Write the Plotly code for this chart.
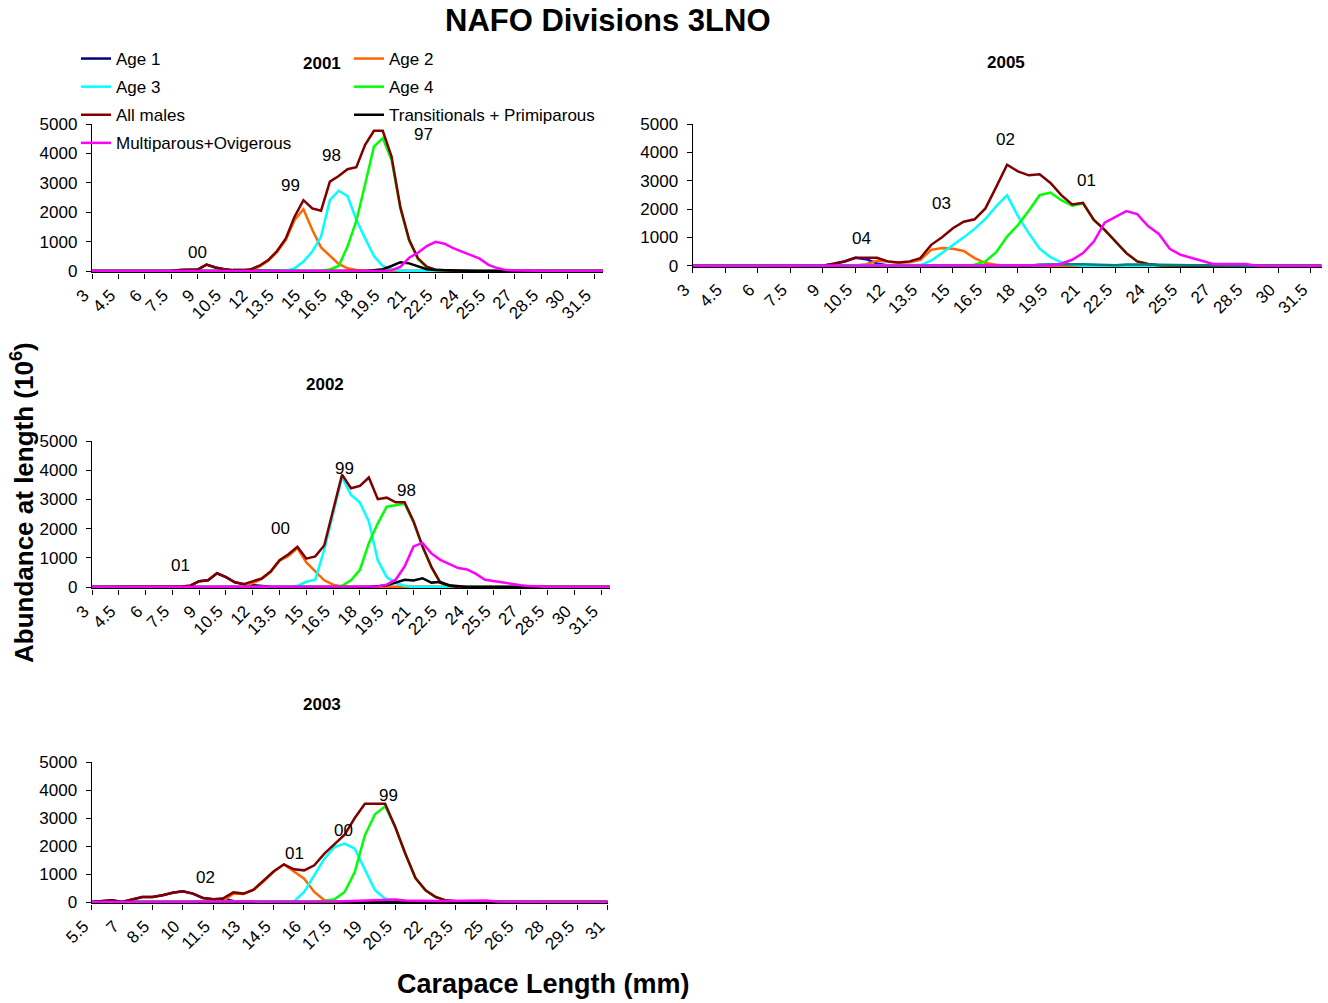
import plotly.graph_objects as go

# Carapace length grids (mm)
lengths_a = [3.0 + 0.5 * i for i in range(59)]      # 3.0 .. 32.0
lengths_b = [5.5 + 0.5 * i for i in range(52)]      # 5.5 .. 31.0

# ---- 2001 (abundance, millions) : first length of each run, then values
age1_2001 = (7.5, [10, 30, 40, 50, 215, 120, 60, 30, 30, 30, 30, 20, 5])
age2_2001 = (12.0, [30, 150, 350, 640, 1060, 1740, 2100, 1400, 800, 510, 240, 90, 35, 10])
age3_2001 = (14.0, [10, 90, 320, 660, 1170, 2410, 2730, 2550, 1740, 1110, 510, 170, 60, 10])
age4_2001 = (16.5, [50, 170, 830, 1700, 2950, 4230, 4520, 3776, 2130, 1030, 400, 125, 35, 10])
males_2001 = (7.5, [10, 30, 40, 50, 215, 120, 60, 30, 30, 57, 180, 370, 680, 1110, 1850, 2410,
                    2130, 2050, 3040, 3230, 3460, 3530, 4290, 4770, 4770, 3890, 2170, 1060, 430,
                    150, 45, 20, 10])
trans_2001 = (19.0, [30, 60, 170, 300, 260, 150, 60, 30, 20, 25, 10])
multi_2001 = (20.0, [30, 140, 450, 620, 850, 990, 930, 780, 660, 540, 420, 210, 100, 30, 20, 20, 20, 15])

# ---- 2002
age1_2002 = (8.0, [20, 45, 200, 230, 470, 340, 160, 90, 60, 30, 10])
age2_2002 = (11.0, [0, 10, 130, 280, 520, 900, 1060, 1330, 840, 530, 230, 80, 20])
age3_2002 = (14.5, [40, 180, 250, 1270, 2520, 3770, 3150, 2890, 2240, 910, 340, 136, 45])
age4_2002 = (17.0, [40, 230, 590, 1500, 2180, 2750, 2800, 2850, 2220, 1380, 680, 150, 40])
males_2002 = (8.0, [20, 45, 200, 230, 470, 340, 160, 100, 190, 290, 530, 920, 1120, 1380, 970, 1050,
                    1420, 2600, 3850, 3380, 3460, 3750, 3010, 3060, 2900, 2900, 2250, 1400, 690, 150, 40])
trans_2002 = (19.0, [30, 60, 150, 250, 220, 300, 150, 170, 60, 20])
multi_2002 = (19.0, [20, 80, 250, 700, 1390, 1510, 1150, 930, 800, 650, 600, 450, 250, 200, 150,
                     100, 60, 30, 10])

# ---- 2003
age1_2003 = (6.0, [20, 60, 0, 80, 180, 180, 240, 330, 380, 300, 140, 95, 100, 40, 10])
age2_2003 = (12.0, [30, 300, 290, 430, 740, 1090, 1340, 1070, 830, 357, 60, 10])
age3_2003 = (15.5, [24, 357, 952, 1548, 1964, 2083, 1905, 1131, 417, 119, 36])
age4_2003 = (16.5, [10, 36, 95, 357, 1071, 2381, 3131, 3417, 2680, 1726, 857, 417, 179, 60, 24])
males_2003 = (6.0, [20, 60, 0, 80, 180, 180, 240, 330, 380, 300, 143, 95, 130, 345, 300, 440, 750,
                    1095, 1345, 1167, 1130, 1310, 1726, 2083, 2405, 3000, 3512, 3512, 3512, 2680,
                    1726, 857, 417, 179, 60, 24])
trans_2003 = (6.0, [])
multi_2003 = (17.0, [10, 20, 30, 40, 50, 50, 60, 90, 50, 40, 40, 40, 40, 40, 30, 30, 50, 20, 10])

# ---- 2005
age1_2005 = (9.5, [70, 150, 280, 230, 80, 10])
age2_2005 = (10.5, [10, 50, 170, 150, 93, 117, 210, 560, 620, 600, 520, 269, 93, 35])
age3_2005 = (13.5, [23, 175, 444, 700, 1000, 1300, 1650, 2100, 2480, 1750, 1150, 600, 300, 120, 35])
age4_2005 = (16.0, [35, 152, 479, 1028, 1437, 1940, 2488, 2582, 2313, 2114, 2196, 1612, 1262, 853,
                    444, 152, 58, 12])
males_2005 = (9.0, [0, 70, 150, 280, 280, 280, 152, 117, 152, 269, 736, 1005, 1320, 1554, 1636, 2021,
                    2780, 3563, 3329, 3189, 3224, 2921, 2488, 2161, 2220, 1612, 1262, 853, 444, 152,
                    58, 12])
trans_2005 = (19.0, [40, 50, 50, 50, 50, 40, 40, 20, 40, 50, 40, 30, 20, 20, 20, 20, 10])
multi_2005 = (19.5, [10, 70, 210, 444, 853, 1519, 1729, 1928, 1822, 1402, 1121, 596, 386, 269, 152,
                     58, 58, 58, 58])

# cohort (year-class) labels: (length, abundance, text)
cohorts_2001 = [(9.0, 646, "00"), (14.26, 2925, "99"), (16.58, 3912, "98"), (21.79, 4626, "97")]
cohorts_2002 = [(7.98, 753, "01"), (13.58, 2020, "00"), (17.11, 4075, "99"), (20.58, 3288, "98")]
cohorts_2003 = [(11.1, 893, "02"), (15.54, 1750, "01"), (17.92, 2536, "00"), (20.19, 3786, "99")]
cohorts_2005 = [(10.8, 943, "04"), (14.49, 2180, "03"), (17.44, 4442, "02"), (21.17, 2993, "01")]

series_names = ["Age 1", "Age 2", "Age 3", "Age 4", "All males",
                "Transitionals + Primiparous", "Multiparous+Ovigerous"]
series_colors = ["#000080", "#FF6600", "#00FFFF", "#00FF00", "#800000", "#000000", "#FF00FF"]
colors_2005 = ["#0000FF", "#FF6600", "#00FFFF", "#00FF00", "#800000", "#008080", "#FF00FF"]
legend_of = ["legend", "legend2", "legend", "legend2", "legend", "legend2", "legend"]

FONT = "Liberation Sans, Arial, sans-serif"
W, H = 1328, 1003
YMIN = -50


def expand(run, grid):
    start, vals = run
    out = [0.0] * len(grid)
    i0 = int(round((start - grid[0]) / 0.5))
    for k, v in enumerate(vals):
        out[i0 + k] = v
    return out


def paper_text(px, py, text, size, angle=0):
    return dict(x=px / W, y=1 - py / H, xref="paper", yref="paper", text=text,
                showarrow=False, xanchor="center", yanchor="middle", textangle=angle,
                font=dict(family=FONT, size=size, color="#000000"))


panels = [
    # name, axis suffix, grid, runs, cohorts, px x-extent, px y of 0 and of 5000, colours,
    # x range, title position
    ("2001", "", lengths_a,
     [age1_2001, age2_2001, age3_2001, age4_2001, males_2001, trans_2001, multi_2001],
     cohorts_2001, (92, 603), (271, 124), series_colors, (3, 32), (322, 64)),
    ("2005", "2", lengths_a,
     [age1_2005, age2_2005, age3_2005, age4_2005, males_2005, trans_2005, multi_2005],
     cohorts_2005, (692.7, 1321.5), (265.7, 124), colors_2005, (3, 32), (1006, 63)),
    ("2002", "3", lengths_a,
     [age1_2002, age2_2002, age3_2002, age4_2002, males_2002, trans_2002, multi_2002],
     cohorts_2002, (92, 610), (587, 441), series_colors, (3, 32), (325, 384)),
    ("2003", "4", lengths_b,
     [age1_2003, age2_2003, age3_2003, age4_2003, males_2003, trans_2003, multi_2003],
     cohorts_2003, (91.7, 607.7), (902, 762), series_colors, (5.5, 31), (322, 704)),
]

fig = go.Figure()
annotations = []
layout_axes = {}

for name, sfx, grid, runs, cohorts, (x0, x1), (y0, y5), cols, xr, tpos in panels:
    xa, ya = "x" + sfx, "y" + sfx
    for k, run in enumerate(runs):
        fig.add_trace(go.Scatter(
            x=grid, y=expand(run, grid), mode="lines",
            name=series_names[k],
            line=dict(color=cols[k], width=2.5),
            xaxis=xa, yaxis=ya,
            showlegend=(name == "2001"),
            legend=legend_of[k],
            legendgroup=series_names[k],
            hoverinfo="skip",
        ))
    per_unit = (y0 - y5) / 5000.0
    ybottom = y0 + (-YMIN) * per_unit
    ticks = [xr[0] + 1.5 * i for i in range(int((xr[1] - xr[0]) / 1.5) + 1)]
    layout_axes["xaxis" + sfx] = dict(
        domain=[x0 / W, x1 / W], anchor=ya, range=list(xr), automargin=False,
        tickvals=ticks, ticktext=[("%g" % t) for t in ticks], tickangle=-45,
        ticklabelshift=-8,
        ticks="outside", ticklen=5, tickwidth=1.3, tickcolor="#000000",
        showline=True, linecolor="#000000", linewidth=1.3,
        showgrid=False, zeroline=False,
        tickfont=dict(family=FONT, size=17, color="#000000"),
    )
    layout_axes["yaxis" + sfx] = dict(
        domain=[1 - ybottom / H, 1 - y5 / H], anchor=xa, range=[YMIN, 5000], automargin=False,
        tickvals=[0, 1000, 2000, 3000, 4000, 5000],
        ticklabelstandoff=5,
        ticks="outside", ticklen=5, tickwidth=1.3, tickcolor="#000000",
        showline=True, linecolor="#000000", linewidth=1.3,
        showgrid=False, zeroline=False,
        tickfont=dict(family=FONT, size=17, color="#000000"),
    )
    for cx, cy, txt in cohorts:
        annotations.append(dict(x=cx, y=cy, xref=xa, yref=ya, text=txt, showarrow=False,
                                xanchor="center", yanchor="middle",
                                font=dict(family=FONT, size=17, color="#000000")))
    annotations.append(paper_text(tpos[0], tpos[1], "<b>%s</b>" % name, 17))

annotations += [
    paper_text(608, 20, "<b>NAFO Divisions 3LNO</b>", 31),
    paper_text(543, 984, "<b>Carapace Length (mm)</b>", 27),
    paper_text(22, 503, "<b>Abundance at length (10<sup>6</sup>)</b>", 26, angle=-90),
]

legend_style = dict(font=dict(family=FONT, size=17, color="#000000"), bgcolor="rgba(0,0,0,0)",
                    borderwidth=0, tracegroupgap=3, xanchor="left", yanchor="top",
                    orientation="v")

fig.update_layout(
    template="none",
    width=W, height=H,
    margin=dict(l=0, r=0, t=0, b=0, autoexpand=False),
    paper_bgcolor="#FFFFFF", plot_bgcolor="#FFFFFF",
    font=dict(family=FONT, color="#000000"),
    annotations=annotations,
    legend=dict(x=76 / W, y=1 - 41 / H, **legend_style),
    legend2=dict(x=349 / W, y=1 - 41 / H, **legend_style),
    **layout_axes,
)

fig.write_html("out.html")
